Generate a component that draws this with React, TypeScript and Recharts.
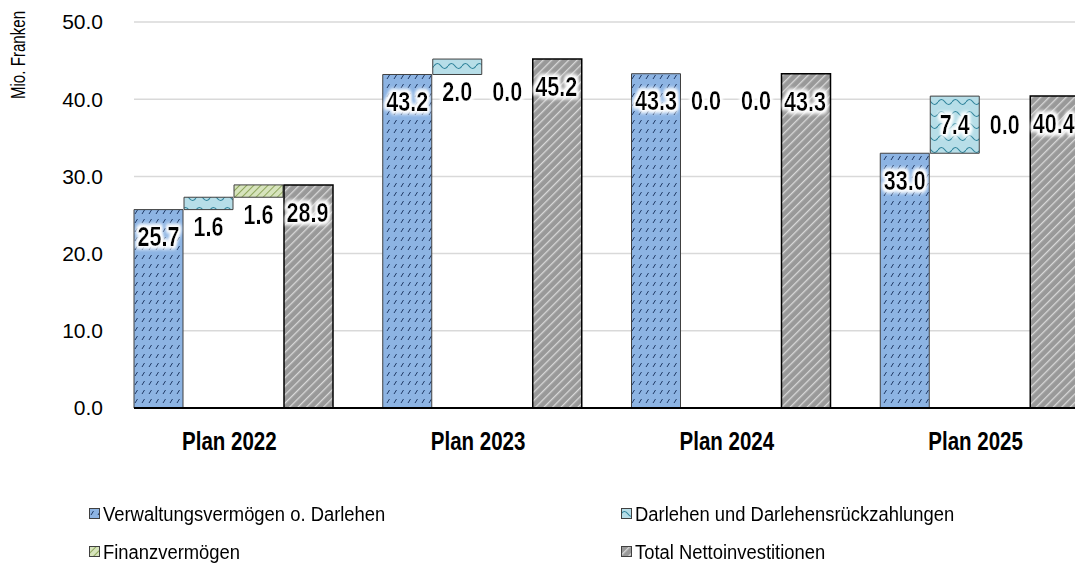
import React from 'react';
import { BarChart, Bar, XAxis, YAxis, CartesianGrid, LabelList, Legend, ReferenceLine } from 'recharts';

const categories = ['Plan 2022', 'Plan 2023', 'Plan 2024', 'Plan 2025'];
const verwaltung = [25.7, 43.2, 43.3, 33.0];
const darlehen = [1.6, 2.0, 0.0, 7.4];
const finanz = [1.6, 0.0, 0.0, 0.0];
const total = [28.9, 45.2, 43.3, 40.4];
const yTicks = [0, 10, 20, 30, 40, 50];
const seriesNames = [
  'Verwaltungsvermögen o. Darlehen',
  'Darlehen und Darlehensrückzahlungen',
  'Finanzvermögen',
  'Total Nettoinvestitionen',
];

const data = categories.map((c, i) => ({
  name: c,
  vv: [0, verwaltung[i]],
  dl: [verwaltung[i], verwaltung[i] + darlehen[i]],
  fv: [verwaltung[i] + darlehen[i], verwaltung[i] + darlehen[i] + finanz[i]],
  tot: [0, total[i]],
}));

const CAT_GAP = 24;
const BAR_GAP = 1;
const SANS = "'Liberation Sans', Arial, sans-serif";
const SQUEEZE = 0.82;

const ValueText = ({ cx, cy, text }: { cx: number; cy: number; text: string }) => (
  <text
    transform={`translate(${cx}, ${cy}) scale(0.8, 1)`}
    textAnchor="middle"
    dominantBaseline="central"
    filter="url(#glow)"
    style={{ fontFamily: SANS, fontWeight: 700, fontSize: 27, fill: '#000' }}
  >
    {text}
  </text>
);

// All value labels of a category, placed from the geometry of the (last) total bar,
// so that they sit on top of every bar and zero-height bars still get their label.
const categoryLabels = (props: any) => {
  const { x, y, width, height, index } = props;
  const base = y + height;
  const k = height / total[index];
  const yOf = (v: number) => base - v * k;
  const step = width + BAR_GAP;
  const cxOf = (slot: number) => x - (3 - slot) * step + width / 2;
  const v = verwaltung[index];
  const d = darlehen[index];
  const f = finanz[index];
  const t = total[index];
  const cyV = yOf(v) + 27;
  const floatCy = (lo: number, hi: number, prev: number) => {
    const h = (hi - lo) * k;
    if (h <= 0.5) return prev;
    const top = yOf(hi);
    return h > 30 ? top + h / 2 : top + h + 17;
  };
  const cyD = floatCy(v, v + d, cyV);
  const cyF = floatCy(v + d, v + d + f, cyD);
  return (
    <g>
      <ValueText cx={cxOf(0)} cy={cyV} text={v.toFixed(1)} />
      <ValueText cx={cxOf(1)} cy={cyD} text={d.toFixed(1)} />
      <ValueText cx={cxOf(2)} cy={cyF} text={f.toFixed(1)} />
      <ValueText cx={cxOf(3) - 1} cy={yOf(t) + 28} text={t.toFixed(1)} />
    </g>
  );
};

const swatchFills = ['url(#patVV)', 'url(#patDL)', 'url(#patFV)', 'url(#patTOT)'];

const renderLegend = () => (
  <div
    style={{
      display: 'grid',
      gridTemplateColumns: '532px 440px',
      fontFamily: SANS,
      fontSize: 20,
      color: '#000',
    }}
  >
    {[0, 1, 2, 3].map((i) => (
      <div key={i} style={{ display: 'flex', alignItems: 'center', height: 38, whiteSpace: 'nowrap' }}>
        <svg width={12} height={12} style={{ marginRight: 2, flex: 'none' }}>
          <rect x={0.5} y={0.5} width={10} height={10} fill={swatchFills[i]} stroke="#404040" strokeWidth={1} />
        </svg>
        <span style={{ display: 'inline-block', transform: 'scaleX(0.92)', transformOrigin: 'left center' }}>
          {seriesNames[i]}
        </span>
      </div>
    ))}
  </div>
);

export default function App() {
  return (
    <div
      style={{
        position: 'fixed',
        left: 0,
        top: 0,
        width: 1075,
        height: 571,
        overflow: 'hidden',
        background: '#fff',
      }}
    >
      <BarChart
        width={1110}
        height={571}
        data={data}
        margin={{ top: 22, right: 5, left: 0, bottom: 123 }}
        barCategoryGap={CAT_GAP}
        barGap={BAR_GAP}
      >
        <defs>
          <pattern id="patVV" patternUnits="userSpaceOnUse" width="7" height="9">
            <rect width="7" height="9" fill="#8DB4E3" />
            <path d="M2 7 L4.5 3" stroke="#1F3864" strokeWidth="1" />
          </pattern>
          <pattern id="patDL" patternUnits="userSpaceOnUse" width="14" height="12">
            <rect width="14" height="12" fill="#B7DEE8" />
            <path d="M0 6 Q3.5 1 7 6 T14 6" stroke="#31859C" strokeWidth="1.2" fill="none" />
          </pattern>
          <pattern id="patFV" patternUnits="userSpaceOnUse" width="5" height="5" patternTransform="rotate(45)">
            <rect width="5" height="5" fill="#D7E4BD" />
            <line x1="0" y1="0" x2="0" y2="5" stroke="#77933C" strokeWidth="1.5" />
          </pattern>
          <pattern id="patTOT" patternUnits="userSpaceOnUse" width="6" height="6" patternTransform="rotate(45)">
            <rect width="6" height="6" fill="#999999" />
            <line x1="0" y1="0" x2="0" y2="6" stroke="#D9D9D9" strokeWidth="2.6" />
          </pattern>
          <filter id="glow" x="-30%" y="-30%" width="160%" height="160%">
            <feMorphology in="SourceAlpha" operator="dilate" radius="2" result="d" />
            <feGaussianBlur in="d" stdDeviation="2" result="b" />
            <feFlood floodColor="#ffffff" />
            <feComposite in2="b" operator="in" result="g" />
            <feMerge>
              <feMergeNode in="g" />
              <feMergeNode in="g" />
              <feMergeNode in="SourceGraphic" />
            </feMerge>
          </filter>
        </defs>
        <CartesianGrid
          vertical={false}
          horizontal={(p: any) => (
            <line
              key={p.key}
              x1={p.x1 + CAT_GAP}
              x2={p.x2}
              y1={p.y1}
              y2={p.y2}
              stroke="#D9D9D9"
              strokeWidth={1.5}
            />
          )}
        />
        <XAxis
          dataKey="name"
          axisLine={false}
          tickLine={false}
          tickSize={0}
          tickMargin={0}
          height={40}
          tick={(p: any) => (
            <text
              transform={`translate(${p.x - 5}, ${p.y + 33}) scale(${SQUEEZE}, 1)`}
              textAnchor="middle"
              dominantBaseline="central"
              style={{ fontFamily: SANS, fontWeight: 700, fontSize: 25, fill: '#000' }}
            >
              {p.payload.value}
            </text>
          )}
        />
        <YAxis
          width={110}
          domain={[0, 50]}
          ticks={yTicks}
          interval={0}
          axisLine={false}
          tickLine={false}
          tickSize={0}
          tickMargin={7}
          tickFormatter={(v: number) => v.toFixed(1)}
          tick={{ fontFamily: SANS, fontSize: 21, fill: '#000' }}
          label={{
            content: (p: any) => (
              <text
                transform={`translate(18, ${p.viewBox.y + 33}) rotate(-90) scale(0.72, 1)`}
                textAnchor="middle"
                dominantBaseline="central"
                style={{ fontFamily: SANS, fontSize: 21, fill: '#000' }}
              >
                Mio. Franken
              </text>
            ),
          }}
        />
        <Legend
          layout="horizontal"
          verticalAlign="middle"
          align="center"
          content={renderLegend}
          wrapperStyle={{ left: 89, top: 495, width: 980 }}
        />
        <Bar dataKey="vv" name={seriesNames[0]} fill="url(#patVV)" stroke="#404040" strokeWidth={1} isAnimationActive={false} />
        <Bar dataKey="dl" name={seriesNames[1]} fill="url(#patDL)" stroke="#404040" strokeWidth={1} isAnimationActive={false} />
        <Bar dataKey="fv" name={seriesNames[2]} fill="url(#patFV)" stroke="#404040" strokeWidth={1} isAnimationActive={false} />
        <Bar dataKey="tot" name={seriesNames[3]} fill="url(#patTOT)" stroke="#000" strokeWidth={1.5} isAnimationActive={false}>
          <LabelList dataKey="tot" content={categoryLabels} />
        </Bar>
        <ReferenceLine
          y={0}
          stroke="#000"
          strokeWidth={2}
          shape={(p: any) => (
            <line x1={p.x1 + CAT_GAP} x2={p.x2} y1={p.y1} y2={p.y2} stroke="#000" strokeWidth={2} />
          )}
        />
      </BarChart>
    </div>
  );
}
